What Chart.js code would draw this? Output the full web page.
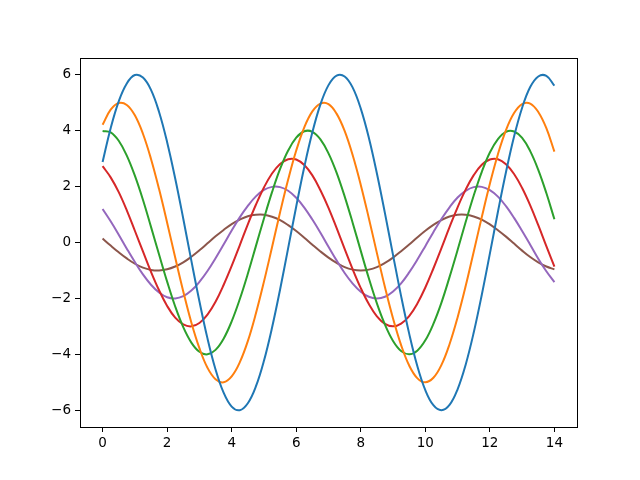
<!DOCTYPE html>
<html>
<head>
<meta charset="utf-8">
<script src="https://cdn.jsdelivr.net/npm/chart.js"></script>
<style>
  html, body { margin: 0; padding: 0; background: #fff; }
  #wrap { width: 640px; height: 480px; }
</style>
</head>
<body>
<div id="wrap"><canvas id="chart" width="640" height="480"></canvas></div>
<script>
// x positions, every 0.25 from 0 to 14
const xValues = [
  0, 0.25, 0.5, 0.75, 1, 1.25, 1.5, 1.75, 2, 2.25, 2.5, 2.75, 3, 3.25, 3.5, 3.75,
  4, 4.25, 4.5, 4.75, 5, 5.25, 5.5, 5.75, 6, 6.25, 6.5, 6.75, 7, 7.25, 7.5, 7.75,
  8, 8.25, 8.5, 8.75, 9, 9.25, 9.5, 9.75, 10, 10.25, 10.5, 10.75, 11, 11.25, 11.5, 11.75,
  12, 12.25, 12.5, 12.75, 13, 13.25, 13.5, 13.75, 14
];

const blueValues = [
  2.88, 4.09, 5.05, 5.69, 5.99, 5.90, 5.46, 4.67, 3.59, 2.29, 0.85, -0.65, -2.10, -3.43, -4.54, -5.37,
  -5.87, -6.00, -5.75, -5.15, -4.23, -3.05, -1.68, -0.20, 1.29, 2.70, 3.94, 4.94, 5.63, 5.97, 5.94, 5.54,
  4.79, 3.75, 2.47, 1.04, -0.45, -1.92, -3.26, -4.41, -5.28, -5.82, -6.00, -5.81, -5.25, -4.37, -3.22, -1.87,
  -0.40, 1.10, 2.52, 3.79, 4.82, 5.56, 5.94, 5.96, 5.61
];
const orangeValues = [
  4.21, 4.75, 4.99, 4.92, 4.55, 3.89, 2.99, 1.91, 0.71, -0.54, -1.75, -2.86, -3.78, -4.48, -4.89, -5.00,
  -4.79, -4.29, -3.53, -2.54, -1.40, -0.17, 1.08, 2.25, 3.29, 4.12, 4.69, 4.97, 4.95, 4.61, 3.99, 3.12,
  2.06, 0.87, -0.38, -1.60, -2.72, -3.67, -4.40, -4.85, -5.00, -4.84, -4.38, -3.64, -2.68, -1.56, -0.33, 0.91,
  2.10, 3.16, 4.02, 4.63, 4.95, 4.97, 4.67, 4.09, 3.25
];
const greenValues = [
  3.99, 3.94, 3.64, 3.11, 2.39, 1.53, 0.56, -0.43, -1.40, -2.29, -3.03, -3.58, -3.91, -4.00, -3.84, -3.44,
  -2.82, -2.03, -1.12, -0.13, 0.86, 1.80, 2.63, 3.29, 3.75, 3.98, 3.96, 3.69, 3.19, 2.50, 1.65, 0.70,
  -0.30, -1.28, -2.18, -2.94, -3.52, -3.88, -4.00, -3.87, -3.50, -2.91, -2.15, -1.24, -0.27, 0.73, 1.68, 2.53,
  3.22, 3.70, 3.96, 3.97, 3.74, 3.27, 2.60, 1.77, 0.83
];
const redValues = [
  2.73, 2.33, 1.80, 1.15, 0.42, -0.32, -1.05, -1.71, -2.27, -2.69, -2.93, -3.00, -2.88, -2.58, -2.12, -1.52,
  -0.84, -0.10, 0.65, 1.35, 1.97, 2.47, 2.81, 2.98, 2.97, 2.77, 2.40, 1.87, 1.24, 0.52, -0.23, -0.96,
  -1.63, -2.20, -2.64, -2.91, -3.00, -2.90, -2.63, -2.19, -1.61, -0.93, -0.20, 0.55, 1.26, 1.89, 2.41, 2.78,
  2.97, 2.98, 2.80, 2.45, 1.95, 1.33, 0.62, -0.13, -0.86
];
const purpleValues = [
  1.20, 0.76, 0.28, -0.22, -0.70, -1.14, -1.51, -1.79, -1.96, -2.00, -1.92, -1.72, -1.41, -1.02, -0.56, -0.07,
  0.43, 0.90, 1.31, 1.65, 1.88, 1.99, 1.98, 1.85, 1.60, 1.25, 0.82, 0.35, -0.15, -0.64, -1.09, -1.47,
  -1.76, -1.94, -2.00, -1.94, -1.75, -1.46, -1.07, -0.62, -0.13, 0.37, 0.84, 1.26, 1.61, 1.85, 1.98, 1.99,
  1.87, 1.64, 1.30, 0.88, 0.41, -0.08, -0.58, -1.03, -1.42
];
const brownValues = [
  0.14, -0.11, -0.35, -0.57, -0.76, -0.90, -0.98, -1.00, -0.96, -0.86, -0.71, -0.51, -0.28, -0.03, 0.22, 0.45,
  0.66, 0.82, 0.94, 0.99, 0.99, 0.92, 0.80, 0.62, 0.41, 0.17, -0.08, -0.32, -0.54, -0.73, -0.88, -0.97,
  -1.00, -0.97, -0.88, -0.73, -0.54, -0.31, -0.07, 0.18, 0.42, 0.63, 0.80, 0.93, 0.99, 0.99, 0.93, 0.82,
  0.65, 0.44, 0.21, -0.04, -0.29, -0.52, -0.71, -0.86, -0.96
];

const xTicks = [0, 2, 4, 6, 8, 10, 12, 14];
const yTicks = [-6, -4, -2, 0, 2, 4, 6];

const seriesList = [blueValues, orangeValues, greenValues, redValues, purpleValues, brownValues];
const seriesColors = ["#1f77b4", "#ff7f0e", "#2ca02c", "#d62728", "#9467bd", "#8c564b"];

const datasets = seriesList.map((vals, i) => ({
  data: vals.map((y, j) => ({ x: xValues[j], y: y })),
  borderColor: seriesColors[i],
  borderWidth: 2,
  pointRadius: 0,
  fill: false,
  tension: 0.4,
}));

// matplotlib style minus sign
function fmt(v) {
  return v < 0 ? "\u2212" + Math.abs(v) : String(v);
}

// box around the plot area (all four spines)
const frame = {
  id: "frame",
  afterDatasetsDraw(chart) {
    const { ctx, chartArea: a } = chart;
    ctx.save();
    ctx.strokeStyle = "#000";
    ctx.lineWidth = 1;
    ctx.strokeRect(Math.round(a.left) + 0.5, Math.round(a.top) + 0.5,
      Math.round(a.right - a.left), Math.round(a.bottom - a.top));
    ctx.restore();
  },
};

const tickFont = { family: "'DejaVu Sans', sans-serif", size: 13.5 };

new Chart(document.getElementById("chart"), {
  type: "line",
  data: { datasets },
  options: {
    responsive: false,
    animation: false,
    layout: { padding: { top: 58, right: 63, left: 0, bottom: 0 } },
    plugins: { legend: { display: false }, tooltip: { enabled: false } },
    scales: {
      x: {
        type: "linear",
        min: -0.7,
        max: 14.7,
        afterBuildTicks: (s) => { s.ticks = xTicks.map((v) => ({ value: v })); },
        afterFit: (s) => { s.height = 53; },
        grid: { drawOnChartArea: false, drawTicks: true, tickLength: 5, color: "#000" },
        border: { display: false },
        ticks: { color: "#000", font: tickFont, padding: 3, maxRotation: 0, callback: (v) => fmt(v) },
      },
      y: {
        type: "linear",
        min: -6.6,
        max: 6.6,
        afterBuildTicks: (s) => { s.ticks = yTicks.map((v) => ({ value: v })); },
        afterFit: (s) => { s.width = 80; },
        grid: { drawOnChartArea: false, drawTicks: true, tickLength: 5, color: "#000" },
        border: { display: false },
        ticks: { color: "#000", font: tickFont, padding: 4, callback: (v) => fmt(v) },
      },
    },
  },
  plugins: [frame],
});
</script>
</body>
</html>
